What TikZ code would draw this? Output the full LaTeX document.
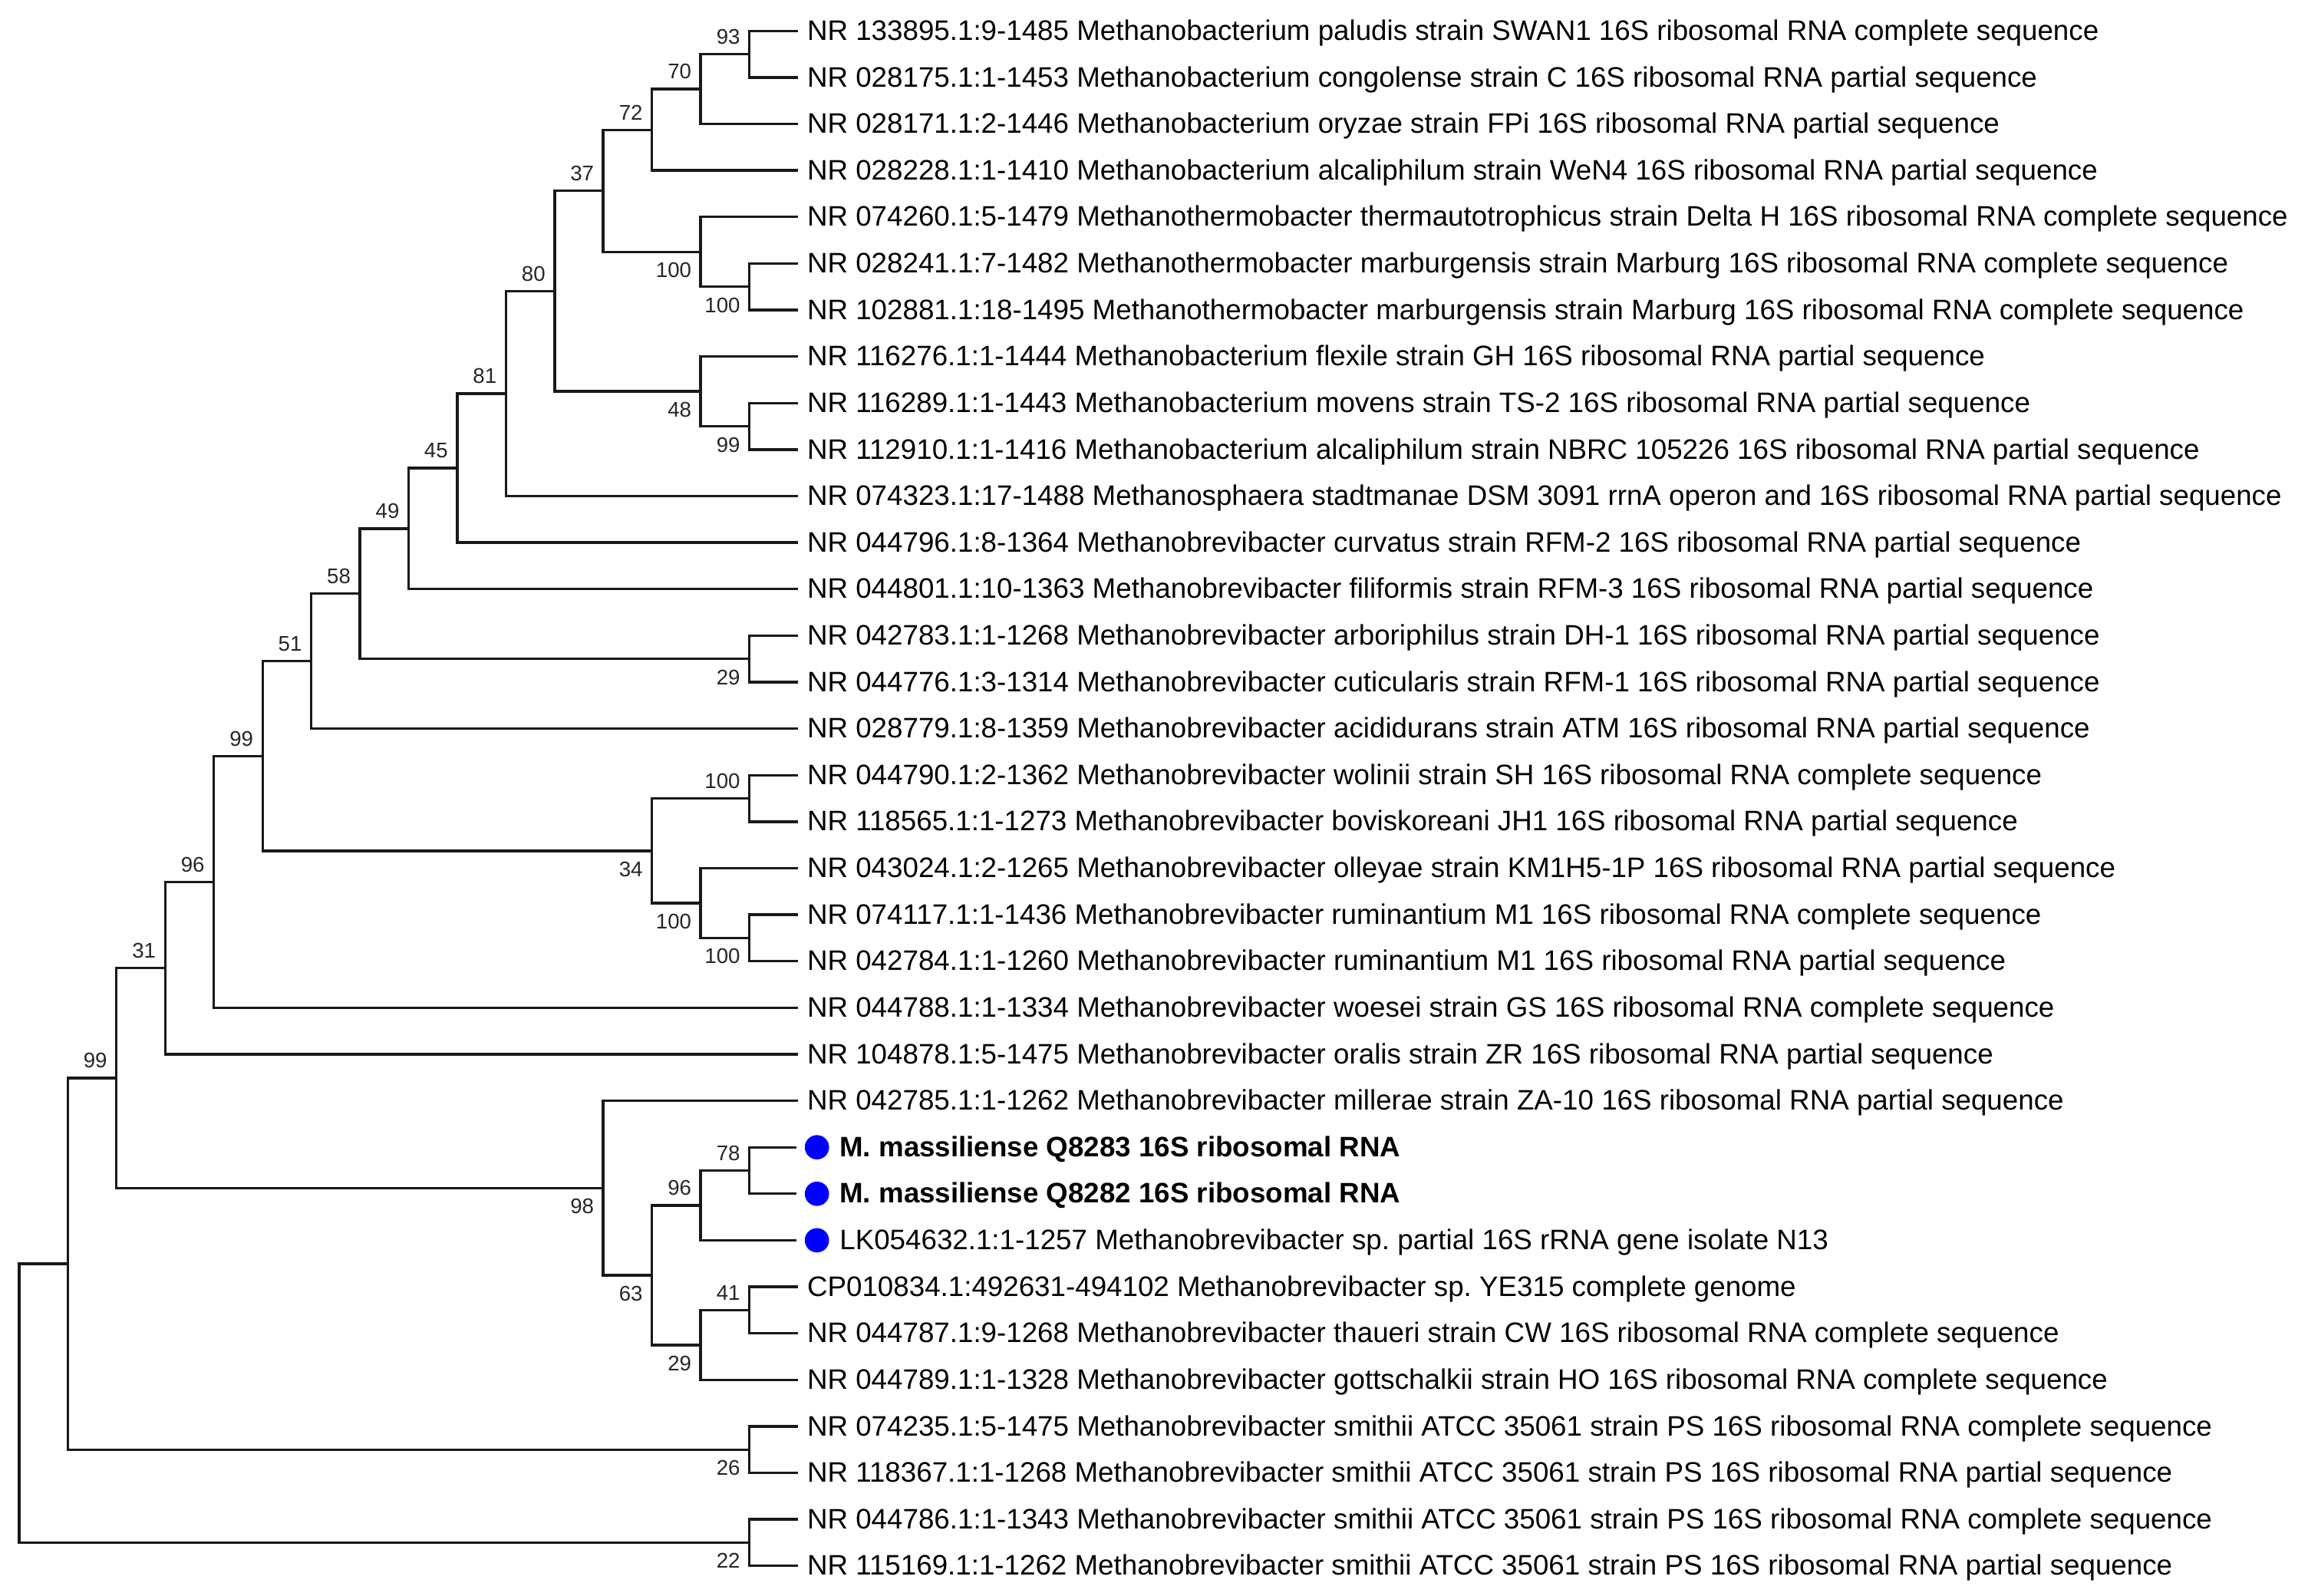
\documentclass[tikz,border=0pt]{standalone}
\usepackage{fontspec}
\setmainfont{Liberation Sans}
\usepackage{tikz}
\usetikzlibrary{positioning}
\frenchspacing
\tikzstyle{branch} = [line width=1pt, draw=black!90]
\tikzstyle{leaf} = [anchor=west, inner xsep=3.4pt, inner ysep=0pt, text height=0.72em, text depth=0pt, font=\fontsize{10.9}{12}\selectfont]
\tikzstyle{mine} = [leaf, font=\fontsize{10.9}{12}\selectfont\bfseries]
\tikzstyle{dot} = [circle, fill=blue, inner sep=0pt, minimum size=9.4pt, outer sep=3.3pt]
\tikzstyle{boot} = [inner sep=0pt, text depth=0pt, font=\fontsize{8.2}{9}\selectfont, text=black!85]

\begin{document}
\begin{tikzpicture}[x=0.02cm, y=-0.02cm]
    \useasboundingbox (0,0) rectangle (1568,1084);
    % leaves
    \node(paludis)[leaf] at (542.1,21.0) {NR 133895.1:9-1485 Methanobacterium paludis strain SWAN1 16S ribosomal RNA complete sequence};
    \node(congolense)[leaf] at (542.1,52.6) {NR 028175.1:1-1453 Methanobacterium congolense strain C 16S ribosomal RNA partial sequence};
    \node(oryzae)[leaf] at (542.1,84.2) {NR 028171.1:2-1446 Methanobacterium oryzae strain FPi 16S ribosomal RNA partial sequence};
    \node(alcaliA)[leaf] at (542.1,115.8) {NR 028228.1:1-1410 Methanobacterium alcaliphilum strain WeN4 16S ribosomal RNA partial sequence};
    \node(thermauto)[leaf] at (542.1,147.4) {NR 074260.1:5-1479 Methanothermobacter thermautotrophicus strain Delta H 16S ribosomal RNA complete sequence};
    \node(marburgA)[leaf] at (542.1,179.0) {NR 028241.1:7-1482 Methanothermobacter marburgensis strain Marburg 16S ribosomal RNA complete sequence};
    \node(marburgB)[leaf] at (542.1,210.6) {NR 102881.1:18-1495 Methanothermobacter marburgensis strain Marburg 16S ribosomal RNA complete sequence};
    \node(flexile)[leaf] at (542.1,242.2) {NR 116276.1:1-1444 Methanobacterium flexile strain GH 16S ribosomal RNA partial sequence};
    \node(movens)[leaf] at (542.1,273.8) {NR 116289.1:1-1443 Methanobacterium movens strain TS-2 16S ribosomal RNA partial sequence};
    \node(alcaliB)[leaf] at (542.1,305.4) {NR 112910.1:1-1416 Methanobacterium alcaliphilum strain NBRC 105226 16S ribosomal RNA partial sequence};
    \node(stadtmanae)[leaf] at (542.1,337.0) {NR 074323.1:17-1488 Methanosphaera stadtmanae DSM 3091 rrnA operon and 16S ribosomal RNA partial sequence};
    \node(curvatus)[leaf] at (542.1,368.6) {NR 044796.1:8-1364 Methanobrevibacter curvatus strain RFM-2 16S ribosomal RNA partial sequence};
    \node(filiformis)[leaf] at (542.1,400.2) {NR 044801.1:10-1363 Methanobrevibacter filiformis strain RFM-3 16S ribosomal RNA partial sequence};
    \node(arboriphilus)[leaf] at (542.1,431.8) {NR 042783.1:1-1268 Methanobrevibacter arboriphilus strain DH-1 16S ribosomal RNA partial sequence};
    \node(cuticularis)[leaf] at (542.1,463.4) {NR 044776.1:3-1314 Methanobrevibacter cuticularis strain RFM-1 16S ribosomal RNA partial sequence};
    \node(acididurans)[leaf] at (542.1,495.0) {NR 028779.1:8-1359 Methanobrevibacter acididurans strain ATM 16S ribosomal RNA partial sequence};
    \node(wolinii)[leaf] at (542.1,526.6) {NR 044790.1:2-1362 Methanobrevibacter wolinii strain SH 16S ribosomal RNA complete sequence};
    \node(boviskoreani)[leaf] at (542.1,558.2) {NR 118565.1:1-1273 Methanobrevibacter boviskoreani JH1 16S ribosomal RNA partial sequence};
    \node(olleyae)[leaf] at (542.1,589.8) {NR 043024.1:2-1265 Methanobrevibacter olleyae strain KM1H5-1P 16S ribosomal RNA partial sequence};
    \node(ruminA)[leaf] at (542.1,621.4) {NR 074117.1:1-1436 Methanobrevibacter ruminantium M1 16S ribosomal RNA complete sequence};
    \node(ruminB)[leaf] at (542.1,653.0) {NR 042784.1:1-1260 Methanobrevibacter ruminantium M1 16S ribosomal RNA partial sequence};
    \node(woesei)[leaf] at (542.1,684.6) {NR 044788.1:1-1334 Methanobrevibacter woesei strain GS 16S ribosomal RNA complete sequence};
    \node(oralis)[leaf] at (542.1,716.2) {NR 104878.1:5-1475 Methanobrevibacter oralis strain ZR 16S ribosomal RNA partial sequence};
    \node(millerae)[leaf] at (542.1,747.8) {NR 042785.1:1-1262 Methanobrevibacter millerae strain ZA-10 16S ribosomal RNA partial sequence};
    \node(qA)[dot] at (555,779.4) {};
    \node(qAtext)[mine, right=-2.8pt of qA] {M. massiliense Q8283 16S ribosomal RNA};
    \node(qB)[dot] at (555,811.0) {};
    \node(qBtext)[mine, right=-2.8pt of qB] {M. massiliense Q8282 16S ribosomal RNA};
    \node(lk)[dot] at (555,842.6) {};
    \node(lktext)[leaf, right=-2.8pt of lk] {LK054632.1:1-1257 Methanobrevibacter sp. partial 16S rRNA gene isolate N13};
    \node(ye)[leaf] at (542.1,874.2) {CP010834.1:492631-494102 Methanobrevibacter sp. YE315 complete genome};
    \node(thaueri)[leaf] at (542.1,905.8) {NR 044787.1:9-1268 Methanobrevibacter thaueri strain CW 16S ribosomal RNA complete sequence};
    \node(gottschalkii)[leaf] at (542.1,937.4) {NR 044789.1:1-1328 Methanobrevibacter gottschalkii strain HO 16S ribosomal RNA complete sequence};
    \node(smithiiA)[leaf] at (542.1,969.0) {NR 074235.1:5-1475 Methanobrevibacter smithii ATCC 35061 strain PS 16S ribosomal RNA complete sequence};
    \node(smithiiB)[leaf] at (542.1,1000.6) {NR 118367.1:1-1268 Methanobrevibacter smithii ATCC 35061 strain PS 16S ribosomal RNA partial sequence};
    \node(smithiiC)[leaf] at (542.1,1032.2) {NR 044786.1:1-1343 Methanobrevibacter smithii ATCC 35061 strain PS 16S ribosomal RNA complete sequence};
    \node(smithiiD)[leaf] at (542.1,1063.8) {NR 115169.1:1-1262 Methanobrevibacter smithii ATCC 35061 strain PS 16S ribosomal RNA partial sequence};
    %
    % inner nodes
    \coordinate(b93) at (509.1,36.8);
    \coordinate(b70) at (476.0,60.5);
    \coordinate(b72) at (442.9,88.2);
    \coordinate(b100a) at (509.1,194.8);
    \coordinate(b100b) at (476.0,171.1);
    \coordinate(b37) at (409.8,129.6);
    \coordinate(b99a) at (509.1,289.6);
    \coordinate(b48) at (476.0,265.9);
    \coordinate(b80) at (376.8,197.8);
    \coordinate(b81) at (343.7,267.4);
    \coordinate(b45) at (310.6,318.0);
    \coordinate(b49) at (277.6,359.1);
    \coordinate(b29a) at (509.1,447.6);
    \coordinate(b58) at (244.5,403.3);
    \coordinate(b51) at (211.4,449.2);
    \coordinate(b100c) at (509.1,542.4);
    \coordinate(b100e) at (509.1,637.2);
    \coordinate(b100d) at (476.0,613.5);
    \coordinate(b34) at (442.9,578.0);
    \coordinate(b99b) at (178.4,513.6);
    \coordinate(b96a) at (145.3,599.1);
    \coordinate(b31) at (112.2,657.6);
    \coordinate(b78) at (509.1,795.2);
    \coordinate(b96b) at (476.0,818.9);
    \coordinate(b41) at (509.1,890.0);
    \coordinate(b29b) at (476.0,913.7);
    \coordinate(b63) at (442.9,866.3);
    \coordinate(b98) at (409.8,807.1);
    \coordinate(b99c) at (79.1,732.3);
    \coordinate(b26) at (509.1,984.8);
    \coordinate(inner) at (46.1,858.6);
    \coordinate(b22) at (509.1,1048.0);
    \coordinate(root) at (13.0,953.3);
    %
    % branches
    \draw[branch](paludis) -| (b93) |- (congolense);
    \draw[branch](b93) -| (b70) |- (oryzae);
    \draw[branch](b70) -| (b72) |- (alcaliA);
    \draw[branch](marburgA) -| (b100a) |- (marburgB);
    \draw[branch](thermauto) -| (b100b) |- (b100a);
    \draw[branch](b72) -| (b37) |- (b100b);
    \draw[branch](movens) -| (b99a) |- (alcaliB);
    \draw[branch](flexile) -| (b48) |- (b99a);
    \draw[branch](b37) -| (b80) |- (b48);
    \draw[branch](b80) -| (b81) |- (stadtmanae);
    \draw[branch](b81) -| (b45) |- (curvatus);
    \draw[branch](b45) -| (b49) |- (filiformis);
    \draw[branch](arboriphilus) -| (b29a) |- (cuticularis);
    \draw[branch](b49) -| (b58) |- (b29a);
    \draw[branch](b58) -| (b51) |- (acididurans);
    \draw[branch](wolinii) -| (b100c) |- (boviskoreani);
    \draw[branch](ruminA) -| (b100e) |- (ruminB);
    \draw[branch](olleyae) -| (b100d) |- (b100e);
    \draw[branch](b100c) -| (b34) |- (b100d);
    \draw[branch](b51) -| (b99b) |- (b34);
    \draw[branch](b99b) -| (b96a) |- (woesei);
    \draw[branch](b96a) -| (b31) |- (oralis);
    \draw[branch](qA) -| (b78) |- (qB);
    \draw[branch](b78) -| (b96b) |- (lk);
    \draw[branch](ye) -| (b41) |- (thaueri);
    \draw[branch](b41) -| (b29b) |- (gottschalkii);
    \draw[branch](b96b) -| (b63) |- (b29b);
    \draw[branch](millerae) -| (b98) |- (b63);
    \draw[branch](b31) -| (b99c) |- (b98);
    \draw[branch](smithiiA) -| (b26) |- (smithiiB);
    \draw[branch](b99c) -| (inner) |- (b26);
    \draw[branch](smithiiC) -| (b22) |- (smithiiD);
    \draw[branch](inner) -| (root) |- (b22);
    %
    % bootstrap values
    \node(lab93)[boot, above left=3.7pt and 3.4pt of b93] {93};
    \node(lab70)[boot, above left=3.7pt and 3.4pt of b70] {70};
    \node(lab72)[boot, above left=3.7pt and 3.4pt of b72] {72};
    \node(lab37)[boot, above left=3.7pt and 3.4pt of b37] {37};
    \node(lab80)[boot, above left=3.7pt and 3.4pt of b80] {80};
    \node(lab81)[boot, above left=3.7pt and 3.4pt of b81] {81};
    \node(lab45)[boot, above left=3.7pt and 3.4pt of b45] {45};
    \node(lab49)[boot, above left=3.7pt and 3.4pt of b49] {49};
    \node(lab58)[boot, above left=3.7pt and 3.4pt of b58] {58};
    \node(lab51)[boot, above left=3.7pt and 3.4pt of b51] {51};
    \node(lab99b)[boot, above left=3.7pt and 3.4pt of b99b] {99};
    \node(lab96a)[boot, above left=3.7pt and 3.4pt of b96a] {96};
    \node(lab31)[boot, above left=3.7pt and 3.4pt of b31] {31};
    \node(lab99c)[boot, above left=3.7pt and 3.4pt of b99c] {99};
    \node(lab100c)[boot, above left=3.7pt and 3.4pt of b100c] {100};
    \node(lab78)[boot, above left=3.7pt and 3.4pt of b78] {78};
    \node(lab96b)[boot, above left=3.7pt and 3.4pt of b96b] {96};
    \node(lab41)[boot, above left=3.7pt and 3.4pt of b41] {41};
    \node(lab100a)[boot, below left=4pt and 3.4pt of b100a] {100};
    \node(lab100b)[boot, below left=4pt and 3.4pt of b100b] {100};
    \node(lab99a)[boot, below left=4pt and 3.4pt of b99a] {99};
    \node(lab48)[boot, below left=4pt and 3.4pt of b48] {48};
    \node(lab29a)[boot, below left=4pt and 3.4pt of b29a] {29};
    \node(lab34)[boot, below left=4pt and 3.4pt of b34] {34};
    \node(lab100d)[boot, below left=4pt and 3.4pt of b100d] {100};
    \node(lab100e)[boot, below left=4pt and 3.4pt of b100e] {100};
    \node(lab98)[boot, below left=4pt and 3.4pt of b98] {98};
    \node(lab63)[boot, below left=4pt and 3.4pt of b63] {63};
    \node(lab29b)[boot, below left=4pt and 3.4pt of b29b] {29};
    \node(lab26)[boot, below left=4pt and 3.4pt of b26] {26};
    \node(lab22)[boot, below left=4pt and 3.4pt of b22] {22};
\end{tikzpicture}
\end{document}
